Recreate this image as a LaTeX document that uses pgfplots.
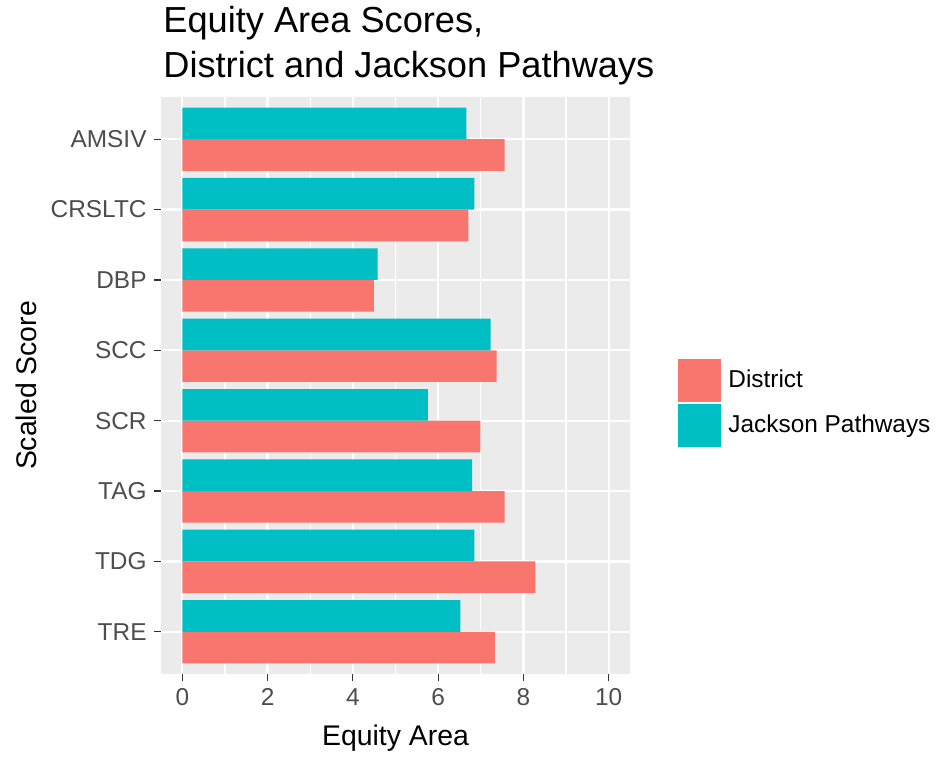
\documentclass[border=0pt]{standalone}
\usepackage{fontspec}
\setmainfont{Liberation Sans}
\usepackage{pgfplots}
\pgfplotsset{compat=1.18}

\definecolor{district}{HTML}{F8766D}
\definecolor{jackson}{HTML}{00BFC4}
\definecolor{panel}{HTML}{EBEBEB}
\definecolor{ticktext}{HTML}{4D4D4D}
\definecolor{tickmark}{HTML}{333333}

\begin{document}
\begin{tikzpicture}
% page frame
\path (0,0) rectangle (468pt,379.5pt);
\begin{axis}[
  at={(80.5pt,42.5pt)}, anchor=south west,
  scale only axis, width=234.5pt, height=288.5pt,
  xmin=-0.5, xmax=10.5, ymin=0.4, ymax=8.6,
  xbar, bar width=0.45,
  axis background/.style={fill=panel},
  axis line style={draw=none},
  xtick={0,2,...,10}, minor xtick={1,3,...,9},
  ytick={1,...,8},
  yticklabels={TRE,TDG,TAG,SCR,SCC,DBP,CRSLTC,AMSIV},
  xtick pos=left, ytick pos=left,
  grid=both,
  major grid style={white, line width=1.1pt},
  minor grid style={white, line width=0.55pt},
  tick align=outside, major tick length=3.7pt, minor tick length=0pt,
  tick style={tickmark, line width=0.6pt},
  ticklabel style={font=\fontsize{12.2}{14}\selectfont, text=ticktext},
  /pgf/number format/assume math mode=true,
  xlabel={Equity Area}, ylabel={Scaled Score},
  label style={font=\fontsize{14.2}{17}\selectfont, inner sep=0pt},
  x label style={at={(axis description cs:0.5,0)}, anchor=base, yshift=-36pt},
  y label style={at={(axis description cs:0,0.5)}, anchor=base, yshift=62pt},
  title={Equity Area Scores,\\District and Jackson Pathways},
  title style={at={(axis description cs:0,1)}, anchor=south west, align=left,
    font=\fontsize{18.1}{22.5}\selectfont, inner sep=0pt, xshift=1pt, yshift=0pt},
  legend style={at={(1,0.5)}, anchor=west, xshift=24pt, yshift=-8.5pt,
    draw=none, fill=none, inner sep=0pt, row sep=1pt, column sep=3pt,
    font=\fontsize{12.2}{14}\selectfont, nodes={inner sep=0.5pt}},
  legend cell align=left,
  legend image code/.code={\fill[#1] (0pt,-10.75pt) rectangle (21.5pt,10.75pt);},
]
% District (lower bar of each pair)
\addplot[fill=district, draw=none, bar shift=-0.225] coordinates {
  (7.33,1) (8.28,2) (7.56,3) (6.99,4) (7.37,5) (4.49,6) (6.71,7) (7.56,8)
};
% Jackson Pathways (upper bar of each pair)
\addplot[fill=jackson, draw=none, bar shift=0.225] coordinates {
  (6.52,1) (6.85,2) (6.80,3) (5.76,4) (7.23,5) (4.58,6) (6.85,7) (6.66,8)
};
\legend{District, Jackson Pathways}
\end{axis}
\end{tikzpicture}
\end{document}
